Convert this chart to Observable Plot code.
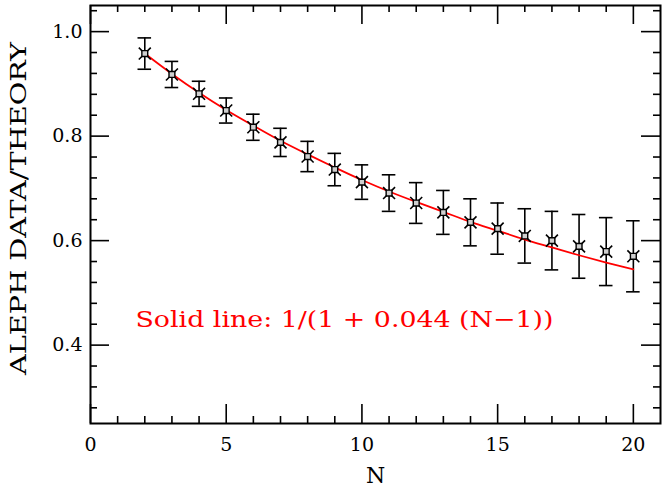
<!DOCTYPE html>
<html><head><meta charset="utf-8">
<script src="https://cdn.jsdelivr.net/npm/d3@7"></script>
<script src="https://cdn.jsdelivr.net/npm/@observablehq/plot@0.6"></script>
<style>body{margin:0;background:#fff}</style>
</head><body><div id="chart"></div>
<script>
const nValues = [2,3,4,5,6,7,8,9,10,11,12,13,14,15,16,17,18,19,20];
const ratioValues = [0.958,0.918,0.881,0.849,0.817,0.788,0.761,0.736,0.712,0.691,0.672,0.654,0.635,0.623,0.609,0.600,0.589,0.579,0.570];
const ratioErrors = [0.030,0.025,0.024,0.024,0.025,0.027,0.029,0.031,0.033,0.035,0.039,0.042,0.045,0.049,0.052,0.056,0.061,0.065,0.068];
const fitValues = [0.958,0.919,0.883,0.850,0.820,0.791,0.765,0.740,0.716,0.694,0.674,0.655,0.636,0.619,0.602,0.587,0.572,0.558,0.545];
const xMajorTicks = [0,5,10,15,20];
const xMinorTicks = [1,2,3,4,6,7,8,9,11,12,13,14,16,17,18,19];
const yMajorTicks = [0.4,0.6,0.8,1.0];
const yMinorTicks = [0.28,0.32,0.36,0.44,0.48,0.52,0.56,0.64,0.68,0.72,0.76,0.84,0.88,0.92,0.96,1.04];
const xLabel = "N";
const yLabel = "ALEPH DATA/THEORY";
const note = "Solid line: 1/(1 + 0.044 (N\u22121))";

const points = nValues.map((n,i)=>({n, v: ratioValues[i], lo: ratioValues[i]-ratioErrors[i], hi: ratioValues[i]+ratioErrors[i]}));
const fit = nValues.map((n,i)=>({n, v: fitValues[i]}));

const W = 664, H = 488, mt = 5, mb = 65, ml = 90, mr = 4;
const ph = H - mt - mb, pw = W - ml - mr;
const font = "DejaVu Serif";
const capHalf = 0.25;

const chart = Plot.plot({
  width: W, height: H,
  marginTop: mt, marginBottom: mb, marginLeft: ml, marginRight: mr,
  style: {fontFamily: font, fontSize: "19px", background: "#fff", color: "#000"},
  x: {domain: [0, 21]},
  y: {domain: [0.25, 1.05]},
  marks: [
    Plot.tickX(xMajorTicks, {x: d=>d, insetTop: ph-19, stroke: "#000", strokeWidth: 1.6}),
    Plot.tickX(xMajorTicks, {x: d=>d, insetBottom: ph-19, stroke: "#000", strokeWidth: 1.6}),
    Plot.tickX(xMinorTicks, {x: d=>d, insetTop: ph-7, stroke: "#000", strokeWidth: 1.6}),
    Plot.tickX(xMinorTicks, {x: d=>d, insetBottom: ph-7, stroke: "#000", strokeWidth: 1.6}),
    Plot.tickY(yMajorTicks, {y: d=>d, insetRight: pw-19, stroke: "#000", strokeWidth: 1.6}),
    Plot.tickY(yMajorTicks, {y: d=>d, insetLeft: pw-19, stroke: "#000", strokeWidth: 1.6}),
    Plot.tickY(yMinorTicks, {y: d=>d, insetRight: pw-7, stroke: "#000", strokeWidth: 1.6}),
    Plot.tickY(yMinorTicks, {y: d=>d, insetLeft: pw-7, stroke: "#000", strokeWidth: 1.6}),
    Plot.axisX({ticks: xMajorTicks, tickSize: 0, tickPadding: 14, label: null, fontSize: 19, tickFormat: d3.format("d")}),
    Plot.axisY({ticks: yMajorTicks, tickSize: 0, tickPadding: 8, label: null, fontSize: 19, tickFormat: d3.format(".1f")}),
    Plot.frame({stroke: "#000", strokeWidth: 2}),
    Plot.ruleX(points, {x: "n", y1: "lo", y2: "hi", stroke: "#000", strokeWidth: 1.6}),
    Plot.ruleY(points, {y: "hi", x1: d=>d.n-capHalf, x2: d=>d.n+capHalf, stroke: "#000", strokeWidth: 1.6}),
    Plot.ruleY(points, {y: "lo", x1: d=>d.n-capHalf, x2: d=>d.n+capHalf, stroke: "#000", strokeWidth: 1.6}),
    Plot.line(fit, {x: "n", y: "v", stroke: "#ff0000", strokeWidth: 1.8, curve: "catmull-rom"}),
    Plot.dot(points, {x: "n", y: "v", symbol: "times", r: 5.5, stroke: "#000", strokeWidth: 1.6}),
    Plot.dot(points, {x: "n", y: "v", symbol: "square", r: 3.3, fill: "#cfcfcf", stroke: "#000", strokeWidth: 1.4}),
    Plot.text([note], {frameAnchor: "top-left", dx: 45, dy: 314, textAnchor: "start", lineAnchor: "middle", fill: "#ff0000", fontSize: 23, fontFamily: font}),
    Plot.text([xLabel], {frameAnchor: "bottom", dy: 52, lineAnchor: "middle", fill: "#000", fontSize: 22, fontFamily: font}),
    Plot.text([yLabel], {frameAnchor: "left", dx: -72, dy: -6, rotate: -90, textAnchor: "middle", lineAnchor: "middle", fill: "#000", fontSize: 22, fontFamily: font})
  ]
});
d3.select(chart).selectAll("text").each(function() {
  const t = this.textContent;
  if (t === note) { this.setAttribute("textLength", 418); this.setAttribute("lengthAdjust", "spacingAndGlyphs"); }
  if (t === yLabel) { this.setAttribute("textLength", 333); this.setAttribute("lengthAdjust", "spacingAndGlyphs"); }
});
document.getElementById("chart").appendChild(chart);
</script>
</body></html>
